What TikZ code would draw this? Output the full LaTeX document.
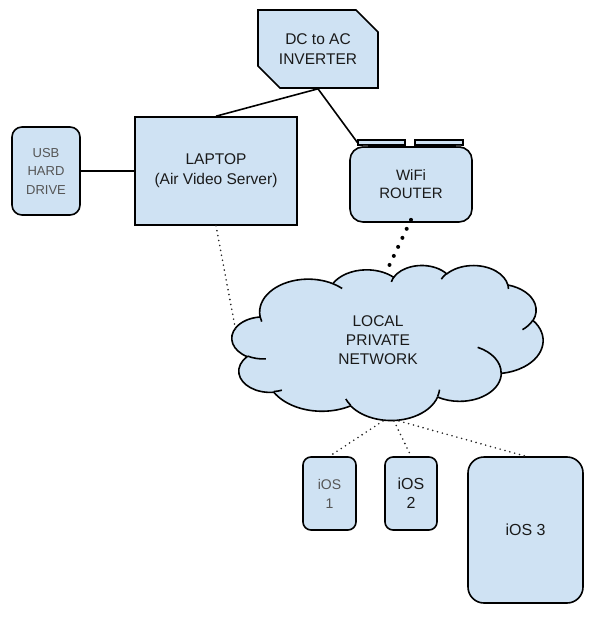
\documentclass[tikz,border=0pt]{standalone}
\usepackage{fontspec}
\setmainfont{Liberation Sans}
\usetikzlibrary{shapes.misc,calc}
\definecolor{boxfill}{HTML}{CFE2F3}
\definecolor{greytext}{HTML}{555555}
\definecolor{darktext}{HTML}{1A1A1A}
\tikzset{
  box/.style={draw=black, fill=boxfill, line width=1.6pt, text=darktext, align=center, inner sep=0pt},
  rbox/.style={box, rounded corners=#1},
  big/.style={font=\fontsize{15.5}{20}\selectfont},
  small/.style={font=\fontsize{13}{18.5}\selectfont, text=greytext},
  wire/.style={line width=1.6pt, draw=black},
  dots/.style={line width=1.8pt, line cap=round, dash pattern=on 0pt off 5pt, draw=black!85},
  bigdots/.style={line width=4pt, line cap=round, dash pattern=on 0pt off 10pt, draw=black},
  cloudline/.style={line width=1.6pt, draw=black, line join=round},
  oarc/.code args={#1/#2/#3/#4}{%
    \pgfmathsetmacro\oA{atan2((#1)*sin(#3),(#2)*cos(#3))}%
    \pgfmathsetmacro\oB{atan2((#1)*sin((#3)+(#4)),(#2)*cos((#3)+(#4)))}%
    \pgfmathsetmacro\oB{ifthenelse(\oB<\oA,\oB+360,\oB)}%
    \edef\oTmp{\noexpand\pgfkeysalso{insert path={arc[x radius=#1, y radius=#2, start angle=\oA, end angle=\oB]}}}\oTmp},
}
\begin{document}
\begin{tikzpicture}[x=1pt,y=-1pt]
\useasboundingbox (0,0) rectangle (605,620);
% inverter
\node[box, big, chamfered rectangle, chamfered rectangle corners={north east,south west},
  chamfered rectangle xsep=10pt, chamfered rectangle ysep=12pt,
  minimum width=120pt, minimum height=78pt] (inv) at (318,49) {DC to AC\\INVERTER};
% laptop
\node[box, big, minimum width=162pt, minimum height=108pt] (lap) at (216,171) {LAPTOP\\(Air Video Server)};
% usb drive
\node[rbox=10pt, small, minimum width=68pt, minimum height=88pt] (usb) at (46,171) {USB\\HARD\\DRIVE};
% router
\node[rbox=13pt, font=\fontsize{15}{18}\selectfont, minimum width=122pt, minimum height=75pt] (rtr) at (411,184.5) {WiFi\\ROUTER};
\node[box, line width=1.2pt, minimum width=47pt, minimum height=5pt] (ant1) at (381.5,142.5) {};
\node[box, line width=1.2pt, minimum width=48pt, minimum height=5pt] (ant2) at (439,142.5) {};
\fill[black!80] (363,145) rectangle (368,147.5);
\fill[black!80] (456,145) rectangle (461,147.5);
% cloud outline
\begin{scope}[shift={(232,265)}, x=0.07199pt, y=-0.03588pt]
\draw[cloudline, fill=boxfill] (390,1437)
  [oarc={675.3/919.0/-190.4875/123.7805}]
  [oarc={533.3/726.7/-144.1024/89.9452}]
  [oarc={436.5/594.5/-145.8079/99.7230}]
  [oarc={485.7/659.5/-130.9861/117.2417}]
  [oarc={533.3/727.3/-78.7089/109.0269}]
  [oarc={677.5/922.0/-46.2673/130.2690}]
  [oarc={578.5/786.7/0.6250/114.0333}]
  [oarc={675.2/921.5/22.4516/115.1726}]
  [oarc={772.0/1054.3/66.2426/75.7110}]
  [oarc={436.0/591.8/-274.9421/146.7356}]
  [oarc={434.5/594.5/-246.8285/152.5189}] -- cycle;
\draw[cloudline] (469.3,2617.7) [oarc={434.5/594.5/86.7420/26.4295}];
\draw[cloudline] (692.8,3489.9) [oarc={436.0/591.8/73.6105/11.4475}];
\draw[cloudline] (1647.8,3909.0) [oarc={675.2/921.5/137.6242/14.0811}];
\draw[cloudline] (2882.7,3475.1) [oarc={675.2/921.5/6.4533/15.9984}];
\draw[cloudline] (3412.9,2295.4) [oarc={578.5/786.7/-70.2924/70.9174}];
\draw[cloudline] (4179.8,1535.4) [oarc={533.3/727.3/30.3180/27.7515}];
\draw[cloudline] (3832.4,542.6) [oarc={485.7/659.5/-13.7443/14.8589}];
\draw[cloudline] (2907.8,395.2) [oarc={485.7/659.5/-149.1815/18.1954}];
\draw[cloudline] (2214.1,472.0) [oarc={436.5/594.5/-163.4943/17.6864}];
\draw[cloudline] (1400.0,519.2) [oarc={675.3/919.0/-66.7070/12.3194}];
\draw[cloudline] (412.7,1578.9) [oarc={675.3/919.0/157.6544/11.8582}];
\end{scope}
\node[align=center, text=darktext, font=\fontsize{15.5}{19}\selectfont] (net) at (378,340) {LOCAL\\PRIVATE\\NETWORK};
\coordinate (netL) at (236,332);
\coordinate (netT) at (389,266);
\coordinate (netB1) at (383,421);
\coordinate (netB2) at (394,421);
\coordinate (netB3) at (399,421);
% iOS devices
\node[rbox=8pt, font=\fontsize{14}{19}\selectfont, text=greytext, minimum width=53pt, minimum height=73pt] (ios1) at (329.5,493.5) {iOS\\1};
\node[rbox=8pt, font=\fontsize{16}{19}\selectfont, minimum width=52pt, minimum height=73pt] (ios2) at (411,493.5) {iOS\\2};
\node[rbox=16pt, font=\fontsize{16}{19}\selectfont, minimum width=115pt, minimum height=146pt] (ios3) at (525.5,530) {iOS 3};
% connectors
\draw[wire] (inv.south) -- (lap.north);
\draw[wire] (inv.south) -- (ant1.west);
\draw[wire] (usb.east) -- (lap.west);
\draw[dots] (lap.south) -- (netL);
\draw[bigdots] ([yshift=3pt]rtr.south) -- (netT);
\draw[dots] (netB1) -- (ios1.north);
\draw[dots] (netB2) -- (ios2.north);
\draw[dots] (netB3) -- (ios3.north);
\end{tikzpicture}
\end{document}
